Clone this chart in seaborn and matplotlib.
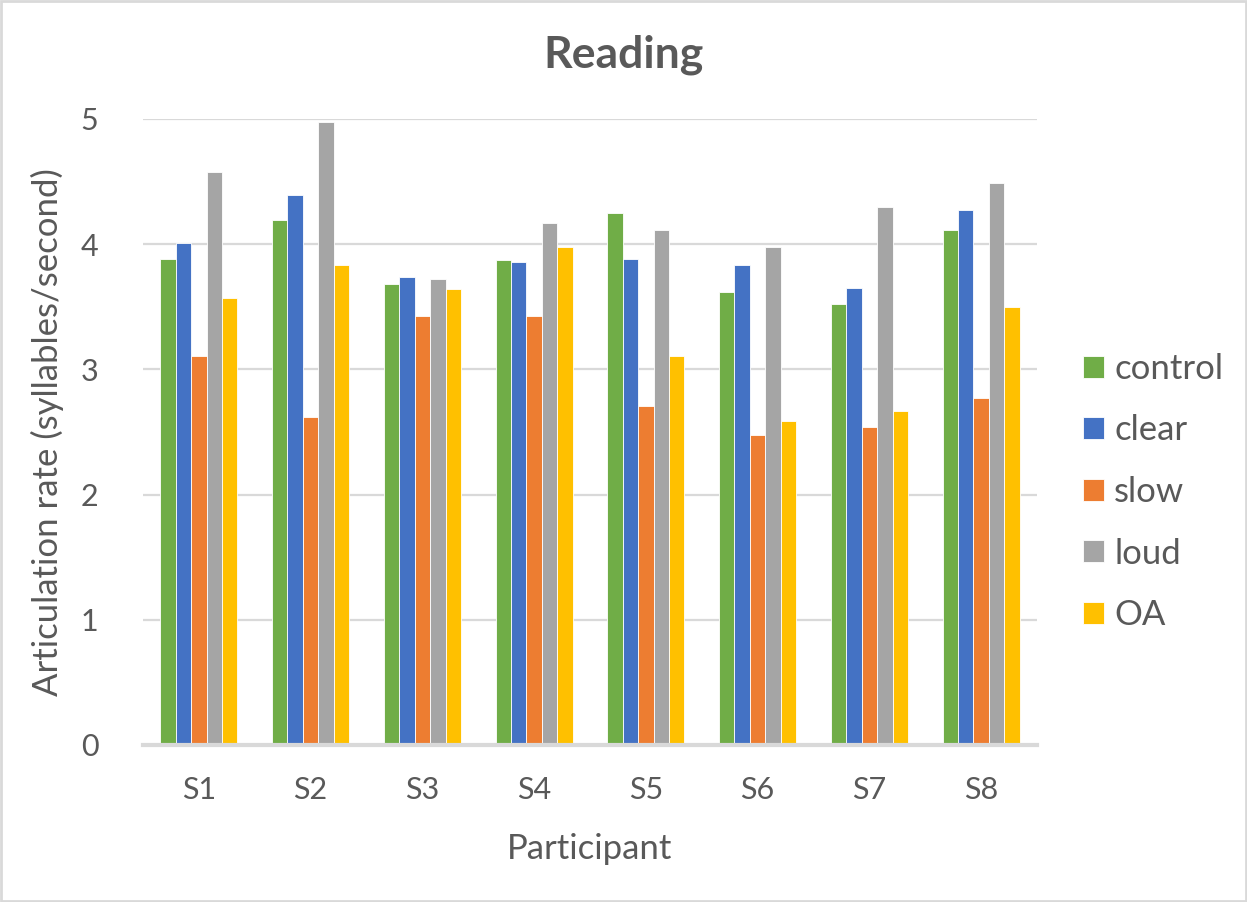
import matplotlib
matplotlib.use("Agg")
import matplotlib.pyplot as plt
from matplotlib.patches import Rectangle
import seaborn as sns
import pandas as pd

# Articulation rate per participant and speaking condition
participants = ["S1", "S2", "S3", "S4", "S5", "S6", "S7", "S8"]
conditions = ["control", "clear", "slow", "loud", "OA"]
control = [3.88, 4.19, 3.68, 3.87, 4.25, 3.62, 3.52, 4.11]
clear = [4.01, 4.39, 3.74, 3.86, 3.88, 3.83, 3.65, 4.27]
slow = [3.11, 2.62, 3.43, 3.43, 2.71, 2.48, 2.54, 2.77]
loud = [4.58, 4.98, 3.72, 4.17, 4.11, 3.98, 4.30, 4.49]
oa = [3.57, 3.83, 3.64, 3.98, 3.11, 2.59, 2.67, 3.50]
y_ticks = [0, 1, 2, 3, 4, 5]

colors = ["#70AD47", "#4472C4", "#ED7D31", "#A5A5A5", "#FFC000"]
text_color = "#595959"
grid_color = "#D9D9D9"

series = dict(zip(conditions, [control, clear, slow, loud, oa]))
df = pd.DataFrame(
    [(p, c, v) for c in conditions for p, v in zip(participants, series[c])],
    columns=["Participant", "condition", "rate"],
)

sns.set_theme(style="white")
plt.rcParams["font.family"] = ["Lato", "DejaVu Sans"]

fig = plt.figure(figsize=(12.47, 9.02), dpi=100)
ax = fig.add_axes([143 / 1247, 157 / 902, 894 / 1247, 626 / 902])

sns.barplot(
    data=df, x="Participant", y="rate", hue="condition",
    hue_order=conditions, order=participants, palette=colors,
    saturation=1, width=0.69, edgecolor="white", linewidth=0.6,
    ax=ax, legend=True,
)

ax.set_ylim(0, 5)
ax.set_xlim(-0.5, len(participants) - 0.5)
ax.set_yticks(y_ticks)
ax.set_yticklabels([str(t) for t in y_ticks])
ax.yaxis.grid(True, color=grid_color, linewidth=1.6)
ax.set_axisbelow(True)
for side in ["top", "right", "left"]:
    ax.spines[side].set_visible(False)
ax.spines["bottom"].set_color(grid_color)
ax.spines["bottom"].set_linewidth(3)
ax.tick_params(axis="both", length=0, labelsize=22, colors=text_color)
ax.tick_params(axis="y", pad=32)
ax.tick_params(axis="x", pad=22)

ax.set_xlabel("Participant", fontsize=25, color=text_color, labelpad=21)
ax.set_ylabel("Articulation rate (syllables/second)", fontsize=25,
              color=text_color, labelpad=12)
fig.text(0.5, 1 - 55 / 902, "Reading",
         ha="center", va="center", fontsize=32, fontweight="bold",
         color=text_color)

handles, labels = ax.get_legend_handles_labels()
ax.legend_.remove()
leg = fig.legend(
    handles, labels, loc="center left",
    bbox_to_anchor=(1083 / 1247, 1 - 492 / 902),
    bbox_transform=fig.transFigure, frameon=False, fontsize=25,
    handlelength=0.6, handleheight=0.6, handletextpad=0.3,
    labelspacing=0.85, borderpad=0, borderaxespad=0,
)
for t in leg.get_texts():
    t.set_color(text_color)

fig.patches.append(Rectangle((0.001, 0.001), 0.998, 0.998,
                             transform=fig.transFigure, fill=False,
                             edgecolor=grid_color, linewidth=2))

fig.savefig("out.png", dpi=100, facecolor="white")
